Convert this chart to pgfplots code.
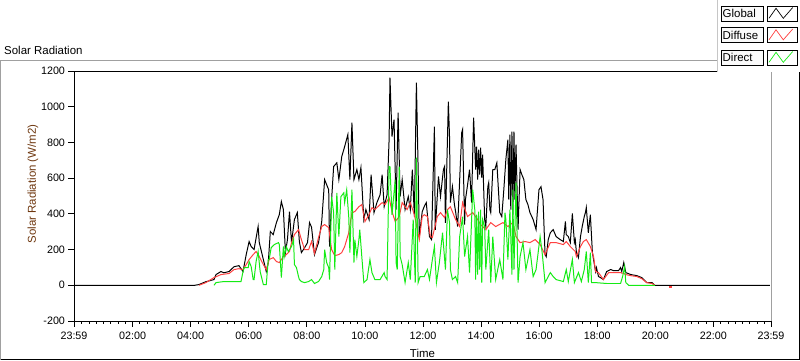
\documentclass[border=0pt]{standalone}
\usepackage{fontspec}
\setmainfont{Liberation Sans}
\usepackage{pgfplots}
\usepackage{pgfplotstable}
\pgfplotsset{compat=1.18}
\definecolor{lvred}{RGB}{255,64,64}
\definecolor{lvgreen}{RGB}{20,235,20}
\definecolor{lvbrown}{RGB}{110,55,15}
\definecolor{framegray}{RGB}{160,160,160}
\newcommand{\txt}{\fontsize{11.5}{13}\selectfont}

\pgfplotstableread{
h v
0 0
4.16 0
4.30 4
4.54 20
4.82 32
4.89 60
5.06 77
5.16 70
5.34 77
5.51 104
5.68 110
5.82 77
5.93 172
6.03 245
6.10 217
6.20 200
6.34 329
6.38 239
6.52 144
6.62 77
6.69 127
6.76 301
6.86 284
6.97 351
7.07 396
7.14 469
7.21 424
7.28 183
7.35 256
7.42 412
7.49 239
7.59 368
7.69 407
7.76 245
7.83 183
7.94 210
8.04 239
8.11 351
8.18 325
8.28 172
8.42 239
8.53 357
8.63 592
8.70 563
8.77 535
8.80 217
8.87 480
8.94 665
9.05 686
9.12 592
9.22 721
9.32 777
9.43 844
9.50 592
9.57 911
9.64 592
9.74 648
9.81 592
9.88 659
9.98 368
10.05 424
10.16 368
10.23 620
10.33 407
10.43 463
10.54 507
10.61 620
10.68 441
10.78 507
10.85 816
10.88 1163
10.95 833
11.02 928
11.09 424
11.16 967
11.23 497
11.30 592
11.40 424
11.51 497
11.58 424
11.65 648
11.72 385
11.79 1135
11.85 648
11.89 273
11.99 412
12.06 441
12.13 463
12.24 273
12.31 256
12.41 889
12.44 311
12.55 609
12.62 497
12.72 648
12.76 665
12.79 350
12.89 1028
12.93 833
12.96 463
13.03 553
13.10 452
13.14 412
13.21 329
13.28 592
13.35 855
13.38 872
13.45 340
13.48 480
13.55 560
13.62 648
13.69 463
13.73 742
13.76 939
13.83 648
13.86 777
13.90 592
13.93 760
13.97 620
14.00 771
14.04 603
14.07 732
14.14 368
14.18 329
14.25 553
14.28 575
14.32 424
14.35 407
14.42 648
14.49 648
14.56 686
14.66 407
14.73 385
14.80 535
14.87 704
14.94 816
14.97 480
15.01 844
15.04 424
15.08 861
15.11 396
15.15 861
15.18 480
15.22 788
15.29 312
15.36 648
15.42 620
15.49 592
15.56 480
15.63 452
15.70 407
15.81 368
15.91 312
16.01 535
16.08 552
16.15 480
16.22 172
16.26 160
16.33 256
16.40 294
16.50 312
16.60 273
16.74 256
16.85 245
16.92 357
16.95 284
17.02 273
17.09 239
17.16 402
17.23 239
17.26 256
17.30 183
17.37 155
17.44 273
17.50 329
17.57 385
17.61 407
17.64 435
17.71 294
17.78 395
17.85 183
17.96 77
17.99 99
18.06 49
18.13 43
18.23 32
18.34 77
18.48 88
18.58 82
18.75 82
18.82 99
18.86 77
18.93 127
19.00 71
19.17 60
19.38 54
19.55 43
19.72 15
19.90 15
20.00 0
24 0
}\globaltable

\pgfplotstableread{
h v
4.30 0
4.54 15
4.82 43
5.06 60
5.34 66
5.51 88
5.68 93
5.82 88
5.93 116
6.03 144
6.17 172
6.27 189
6.38 161
6.52 116
6.62 88
6.72 144
6.86 155
6.97 133
7.07 127
7.21 161
7.31 172
7.42 189
7.49 239
7.59 284
7.73 312
7.83 256
7.94 200
8.08 200
8.18 245
8.28 178
8.42 267
8.53 329
8.63 340
8.77 323
8.87 200
8.98 166
9.12 172
9.22 183
9.32 217
9.46 294
9.57 406
9.67 413
9.81 440
9.91 452
10.02 357
10.16 396
10.26 435
10.36 424
10.50 446
10.61 463
10.71 452
10.85 491
10.95 413
11.06 357
11.20 385
11.30 463
11.47 424
11.58 463
11.72 395
11.89 256
11.99 385
12.06 395
12.17 385
12.27 273
12.34 268
12.51 385
12.62 407
12.76 379
12.86 424
12.96 440
13.14 368
13.28 329
13.38 463
13.55 385
13.73 407
13.90 368
14.00 340
14.18 312
14.35 351
14.52 329
14.77 351
14.94 329
15.11 351
15.22 273
15.36 239
15.53 245
15.70 239
15.88 256
16.05 228
16.22 172
16.40 239
16.60 239
16.85 228
16.95 245
17.09 217
17.26 189
17.30 161
17.44 217
17.54 245
17.64 256
17.78 217
17.89 161
17.96 77
18.06 71
18.23 32
18.41 71
18.58 71
18.82 71
18.93 66
19.00 60
19.17 54
19.38 49
19.55 37
19.72 15
19.90 10
20.00 0
}\diffusetable

\pgfplotstableread{
h v
4.82 0
4.89 15
5.16 21
5.51 21
5.75 21
5.82 77
5.86 99
6.00 99
6.03 133
6.10 105
6.17 32
6.20 32
6.27 133
6.34 189
6.41 77
6.52 4
6.62 4
6.69 144
6.72 144
6.79 211
6.90 228
7.04 239
7.07 228
7.14 43
7.21 217
7.24 161
7.31 217
7.38 189
7.49 217
7.56 256
7.59 116
7.66 99
7.73 49
7.76 32
7.83 21
7.94 15
8.08 21
8.18 32
8.28 10
8.42 21
8.53 49
8.60 88
8.63 200
8.70 127
8.77 99
8.80 32
8.87 496
8.94 406
8.98 88
9.05 518
9.12 273
9.19 496
9.29 518
9.32 463
9.39 535
9.46 384
9.50 183
9.57 535
9.64 127
9.67 256
9.74 161
9.81 256
9.84 312
9.91 161
9.98 15
10.09 32
10.19 144
10.26 71
10.36 32
10.54 32
10.68 71
10.71 49
10.78 32
10.85 665
10.88 665
10.95 395
11.06 592
11.09 127
11.13 88
11.20 665
11.23 161
11.30 116
11.40 15
11.51 127
11.58 32
11.68 368
11.75 15
11.79 715
11.85 15
11.92 49
12.06 49
12.17 88
12.24 32
12.34 144
12.41 217
12.48 15
12.58 127
12.69 294
12.79 88
12.86 423
12.93 351
12.96 88
13.03 32
13.14 49
13.21 15
13.28 273
13.38 384
13.45 161
13.55 273
13.62 71
13.73 535
13.80 423
13.83 32
13.86 395
13.90 60
13.93 412
13.97 88
14.00 423
14.04 15
14.07 368
14.14 329
14.18 88
14.28 312
14.35 15
14.42 273
14.52 32
14.66 144
14.77 32
14.84 406
14.87 368
14.94 144
15.01 423
15.08 60
15.11 535
15.15 88
15.22 575
15.29 15
15.36 161
15.46 239
15.56 88
15.70 200
15.81 49
15.91 88
16.05 273
16.12 183
16.22 15
16.40 71
16.50 49
16.60 32
16.85 21
16.95 88
17.02 21
17.16 144
17.23 15
17.37 71
17.47 21
17.57 88
17.64 189
17.71 15
17.78 183
17.82 15
17.96 15
18.34 10
18.82 10
18.89 49
18.96 105
19.00 15
19.10 0
20.00 0
}\directtable

\begin{document}
\begin{tikzpicture}
\useasboundingbox (-74bp,-40bp) rectangle (726bp,321bp);
% outer frame
\draw[framegray, line width=1bp] (-73bp,-38.5bp) -- (-73bp,260bp) -- (643bp,260bp);
\draw[black, line width=1bp] (-73bp,-38.5bp) -- (725.5bp,-38.5bp) -- (725.5bp,249bp);
\begin{axis}[
  at={(0bp,0bp)}, anchor=south west,
  scale only axis, width=697bp, height=250bp,
  xmin=0, xmax=24, ymin=-200, ymax=1200,
  axis line style={black, line width=0.8pt},
  tick pos=left, tick align=outside,
  major tick length=5.5bp, minor tick length=2.5bp,
  tick style={black, line width=0.8pt},
  ytick={-200,0,200,400,600,800,1000,1200},
  xtick={0,2.01667,4.01667,6.01667,8.01667,10.01667,12.01667,14.01667,16.01667,18.01667,20.01667,22.01667,24},
  xticklabels={23:59,02:00,04:00,06:00,08:00,10:00,12:00,14:00,16:00,18:00,20:00,22:00,23:59},
  minor xtick={0.26667,0.51667,...,23.8},
  /pgf/number format/assume math mode=true,
  /pgf/number format/1000 sep={},
  tick label style={font=\fontsize{10.8}{12}\selectfont},
  xticklabel style={yshift=-2bp},
  title={Solar Radiation},
  title style={at={(axis description cs:-0.1004,1.06)}, anchor=west, font=\txt, inner sep=0pt},
  xlabel={Time},
  xlabel style={at={(axis description cs:0.5,-0.128)}, anchor=center, font=\txt},
  ylabel={Solar Radiation (W/m2)},
  ylabel style={at={(axis description cs:-0.0588,0.548)}, anchor=center, font=\txt, text=lvbrown},
]
\addplot[black, line width=1pt] table[x=h, y=v] {\globaltable};
\addplot[lvred, line width=1pt] table[x=h, y=v] {\diffusetable};
\addplot[lvred, line width=1.6pt] coordinates {(20.49,-8) (20.59,-8)};
\addplot[lvgreen, line width=1pt] table[x=h, y=v] {\directtable};
\end{axis}
% right edge of plot area is grey
\draw[white, line width=1.6bp] (697bp,0bp) -- (697bp,250bp);
\draw[framegray, line width=1bp] (697.5bp,0bp) -- (697.5bp,249bp);
% legend panel
\fill[white] (643bp,249bp) rectangle (726bp,321bp);
\draw[framegray!60, line width=0.8bp] (643bp,249bp) -- (643bp,321bp);
\foreach \yt/\lab/\col in {315/Global/black, 293.5/Diffuse/lvred, 271/Direct/lvgreen} {
  \draw[black, fill=white!96!gray, line width=0.8bp] (647bp,\yt bp) rectangle (689bp,\yt bp-15bp);
  \node[anchor=west, inner sep=0pt, font=\txt] at (648.5bp,\yt bp-7.5bp) {\lab};
  \draw[black, fill=white, line width=0.8bp] (693bp,\yt bp) rectangle (723bp,\yt bp-15bp);
  \draw[\col, line width=0.7bp] (695bp,\yt bp-12.3bp) -- (702bp,\yt bp-2.3bp) -- (709.3bp,\yt bp-12.3bp) -- (718.7bp,\yt bp-1.5bp);
}
\end{tikzpicture}
\end{document}
